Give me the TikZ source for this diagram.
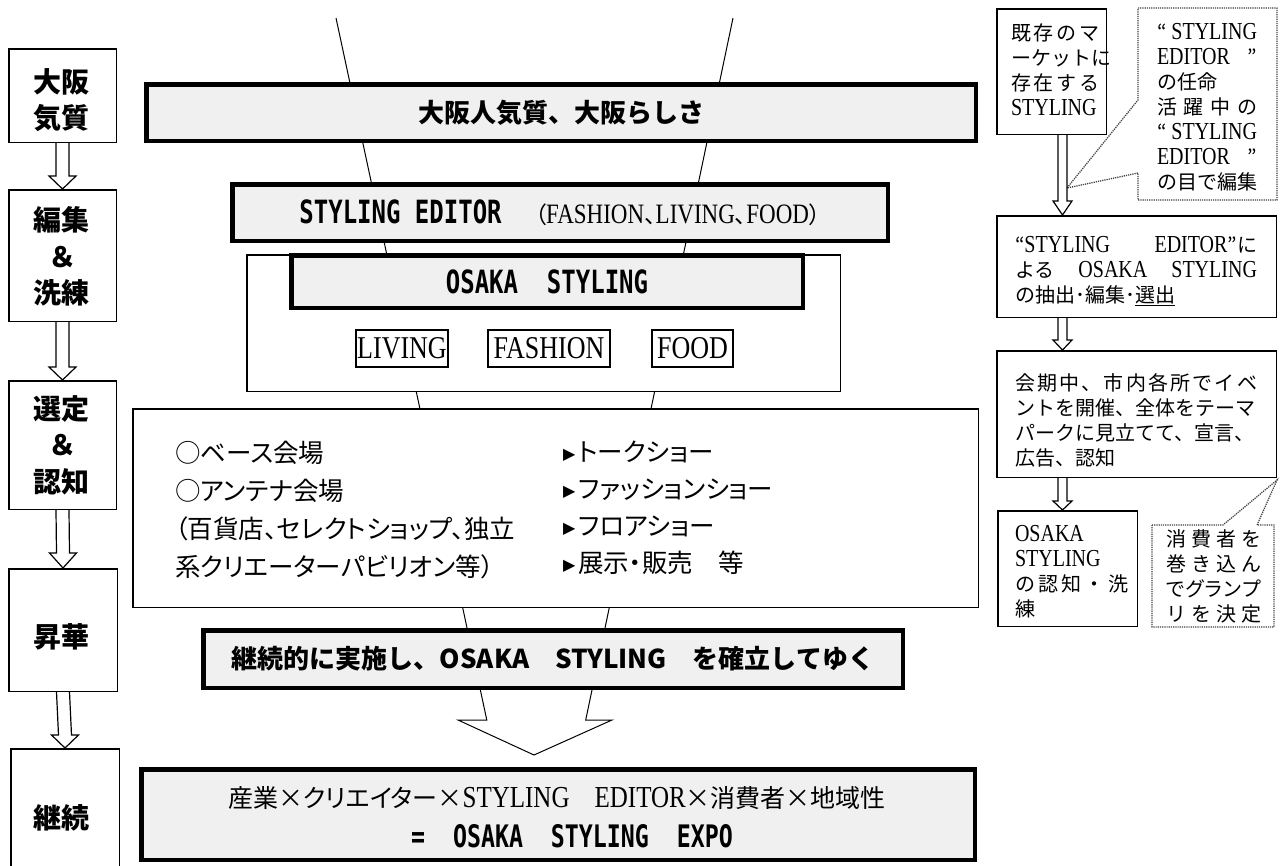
\documentclass[tikz,border=0pt]{standalone}
\usepackage{fontspec}
\setmainfont{Noto Sans CJK JP}
\newfontfamily\jp{Noto Sans CJK JP}
\newfontfamily\jpp{Noto Sans CJK JP}[RawFeature=+palt]
\newfontfamily\lat{Liberation Serif}[Scale=1.22,FakeStretch=0.82]
\newfontfamily\cond{DejaVu Sans Mono}[FakeStretch=0.75]
\newfontfamily\sym{DejaVu Sans}
\usetikzlibrary{calc}
\definecolor{boxgray}{HTML}{F0F0F0}
\newcommand\Lt[1]{{\lat #1}}
\newcommand\sprd[2]{\makebox[#1pt][s]{#2}}
\newcommand\tri{{\sym\fontsize{16}{16}\selectfont\raisebox{1.5pt}{▶}}\hspace{3pt}}
\newcommand\harrow[5]{\draw[harr] ($(#1)+(-#3,0)$) -- ($(#2)+(-#3,-#5)$) -- ($(#2)+(-#4,-#5)$) -- (#2) -- ($(#2)+(#4,-#5)$) -- ($(#2)+(#3,-#5)$) -- ($(#1)+(#3,0)$);}
\begin{document}
\begin{tikzpicture}[x=1pt,y=-1pt,
  tbox/.style={draw,line width=4.5pt,fill=boxgray,inner sep=0},
  nbox/.style={draw,line width=1.5pt,fill=white,inner sep=0},
  labbox/.style={draw,line width=2pt,fill=white,inner sep=0,font=\fontsize{26}{26}\selectfont\lat},
  lbox/.style={draw,line width=1.5pt,fill=white,inner sep=0},
  txt/.style={inner sep=0,outer sep=0},
  ltxt/.style={txt,align=center,font=\bfseries\fontsize{28}{36.5}\selectfont},
  rtxt/.style={txt,align=left,anchor=west,font=\jp\fontsize{20}{25}\selectfont},
  harr/.style={draw,line width=1.2pt,line join=miter},
  funnel/.style={draw,line width=1pt,line join=miter},
  cbox/.style={draw=black!75,dash pattern=on 1.2pt off 1pt,line width=1.3pt,fill=white}]
\useasboundingbox (0,0) rectangle (1280,865);
\fill[white] (0,0) rectangle (1280,865);

% funnel and big hollow arrow
\coordinate (fl0) at (336,18);
\coordinate (fr0) at (733,18);
\coordinate (tip) at (534,755);
\draw[funnel] (fl0) -- (486.8,720) -- (458,720) -- (tip) -- (612,720) -- (585.7,720) -- (fr0);

% middle boxes
\node[tbox,minimum width=829.5,minimum height=56.5,font=\bfseries\fontsize{26}{26}\selectfont] (kishitsu) at (561,112.5) {大阪人気質、大阪らしさ};
\node[tbox,minimum width=655.5,minimum height=56.5] (editor) at (560,212.5) {{\cond\bfseries\fontsize{32}{32}\selectfont STYLING EDITOR}\hspace{33pt}{\jpp\fontsize{23}{23}\selectfont （\Lt{FASHION}、\Lt{LIVING}、\Lt{FOOD}）}};
\node[nbox,minimum width=593.5,minimum height=136.5] (outer) at (543.5,323) {};
\node[tbox,minimum width=511.5,minimum height=52.5,font=\cond\bfseries\fontsize{32}{32}\selectfont] (osaka) at (547,281.5) {OSAKA~~STYLING};
\node[labbox,minimum width=92,minimum height=37] (living) at (402,348.5) {LIVING};
\node[labbox,minimum width=122,minimum height=37] (fashion) at (549,348.5) {FASHION};
\node[labbox,minimum width=81,minimum height=37] (food) at (692.5,348.5) {FOOD};
\node[nbox,minimum width=845.5,minimum height=198.5] (venue) at (555.5,508) {};
\node[txt,align=left,anchor=west,font=\jpp\fontsize{25.5}{38}\selectfont] (venueL) at (175,510) {○ベース会場\\○アンテナ会場\\（百貨店、セレクトショップ、独立\\系クリエーターパビリオン等）};
\node[txt,align=left,anchor=west,font=\jpp\fontsize{25.5}{37}\selectfont] (venueR) at (563,507.5) {\tri トークショー\\\tri ファッションショー\\\tri フロアショー\\\tri 展示・販売　等};
\node[tbox,minimum width=699.5,minimum height=57.5,font=\bfseries\fontsize{26}{26}\selectfont] (keizoku) at (553,659) {継続的に実施し、OSAKA　STYLING　を確立してゆく};
\node[tbox,minimum width=833.5,minimum height=90.5] (final) at (558,814.5) {};
\node[txt,font=\fontsize{25}{25}\selectfont] (fin1) at (557,798) {産業×{\jpp クリエイター}×\Lt{STYLING}　\Lt{EDITOR}×消費者×地域性};
\node[txt,font=\cond\bfseries\fontsize{31}{31}\selectfont] (fin2) at (572,836) {=~~OSAKA~~STYLING~~EXPO};

% left column
\node[lbox,minimum width=107.5,minimum height=93.5] (k1) at (62.5,95.5) {};
\node[lbox,minimum width=107.5,minimum height=131.5] (k2) at (62.5,255.5) {};
\node[lbox,minimum width=107.5,minimum height=128.5] (k3) at (62.5,445) {};
\node[lbox,minimum width=108.5,minimum height=122.5] (k4) at (63,630) {};
\node[lbox,minimum width=108.5,minimum height=140.5] (k5) at (65,819) {};
\node[ltxt] (t1) at (62,100) {大阪\\気質};
\node[ltxt] (t2) at (62,256.5) {編集\\＆\\洗練};
\node[ltxt] (t3) at (62,445) {選定\\＆\\認知};
\node[ltxt] (t4) at (62,637) {昇華};
\node[ltxt] (t5) at (61,818) {継続};
\harrow{k1.south}{k2.north}{6.5}{13.5}{13}
\harrow{k2.south}{k3.north}{6.5}{13.5}{13}
\harrow{k3.south}{k4.north}{6.5}{13.5}{15}
\harrow{k4.south}{k5.north}{6.5}{13.5}{13}

% right column
\coordinate (ax) at (1062.5,0);
\coordinate (cbtip) at (1067,188);
\coordinate (cftip) at (1277,480);
\draw[cbox] (1138,8) -- (1277,8) -- (1277,200) -- (1138,200) -- (1138,173) -- (cbtip) -- (1138,100) -- cycle;
\draw[cbox] (1152,525) -- (1223,525) -- (cftip) -- (1257,525) -- (1274,525) -- (1274,627) -- (1152,627) -- cycle;
\node[lbox,minimum width=109.5,minimum height=125.5] (rA) at (1051.5,71.5) {};
\node[lbox,minimum width=279.5,minimum height=101.5] (rC) at (1136.5,266.5) {};
\node[lbox,minimum width=279.5,minimum height=126.5] (rD) at (1136.5,414) {};
\node[lbox,minimum width=139.5,minimum height=115.5] (rE) at (1067.5,568.5) {};
\node[rtxt] (tA) at (1011,69.5) {\sprd{88}{既\hfill 存\hfill の\hfill マ}\\\sprd{88}{ー\hfill ケ\hfill ッ\hfill ト\hfill に}\\\sprd{88}{存\hfill 在\hfill す\hfill る}\\\Lt{STYLING}};
\node[rtxt] (tB) at (1157,107) {\sprd{100}{“\hfill\Lt{STYLING}}\\\sprd{100}{\Lt{EDITOR}\hfill ”}\\の任命\\\sprd{100}{活\hfill 躍\hfill 中\hfill の}\\\sprd{100}{“\hfill\Lt{STYLING}}\\\sprd{100}{\Lt{EDITOR}\hfill ”}\\の目で編集};
\node[rtxt] (tC) at (1015,271) {\sprd{242}{“\Lt{STYLING}\hfill\Lt{EDITOR}”に}\\\sprd{242}{よる\hfill\Lt{OSAKA}\hfill\Lt{STYLING}}\\の抽出･編集･\underline{選出}};
\node[rtxt] (tD) at (1015,420.5) {\sprd{242}{会\hfill 期\hfill 中\hfill 、\hfill 市\hfill 内\hfill 各\hfill 所\hfill で\hfill イ\hfill ベ}\\ントを開催、全体をテーマ\\パークに見立てて、宣言、\\広告、認知};
\node[rtxt] (tE) at (1015,572) {\Lt{OSAKA}\\\Lt{STYLING}\\\sprd{113}{の\hfill 認\hfill 知\hfill ・\hfill 洗}\\練};
\node[rtxt] (tF) at (1166,576) {\sprd{95}{消\hfill 費\hfill 者\hfill を}\\\sprd{95}{巻\hfill き\hfill 込\hfill ん}\\\sprd{95}{\jpp で\hfill グ\hfill ラ\hfill ン\hfill プ}\\\sprd{95}{リ\hfill を\hfill 決\hfill 定}};
\coordinate (a1) at (rA.south -| ax);
\coordinate (a2) at (rC.north -| ax);
\coordinate (a3) at (rC.south -| ax);
\coordinate (a4) at (rD.north -| ax);
\coordinate (a5) at (rD.south -| ax);
\coordinate (a6) at (rE.north -| ax);
\harrow{a1}{a2}{4.5}{9.5}{14}
\harrow{a3}{a4}{4.5}{9.5}{10}
\harrow{a5}{a6}{4.5}{9.5}{9}
\end{tikzpicture}
\end{document}
